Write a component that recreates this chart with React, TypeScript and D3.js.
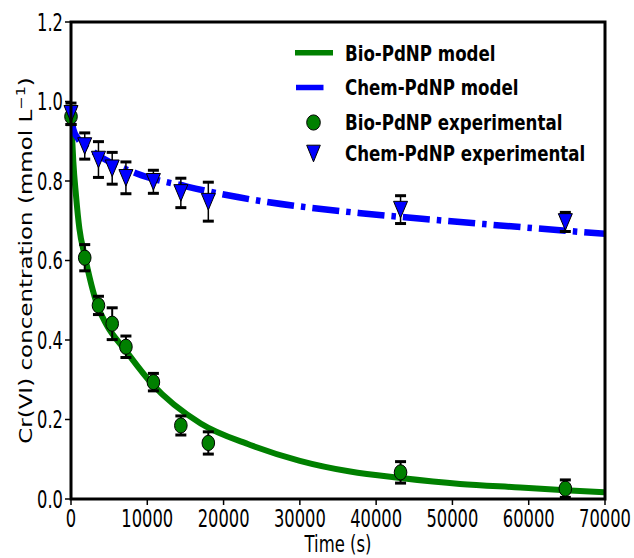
import React from "react";
import * as d3 from "d3";

// Sampling times (s)
const sampleTimes = [0, 1800, 3600, 5400, 7200, 10800, 14400, 18000, 43200, 64800];

// Bio-PdNP measured Cr(VI) concentration (mmol/L) and error
const bioExpConc = [0.962, 0.607, 0.487, 0.441, 0.383, 0.294, 0.185, 0.141, 0.067, 0.026];
const bioExpErr = [0.02, 0.033, 0.023, 0.04, 0.027, 0.022, 0.024, 0.028, 0.027, 0.022];

// Chem-PdNP measured Cr(VI) concentration (mmol/L) and error
const chemExpConc = [0.969, 0.888, 0.854, 0.832, 0.808, 0.798, 0.77, 0.748, 0.728, 0.697];
const chemExpErr = [0.027, 0.033, 0.045, 0.04, 0.04, 0.029, 0.037, 0.049, 0.035, 0.024];

// Fitted model curves
const bioModelTime = [0, 120, 300, 650, 1100, 1800, 3400, 4700, 7100, 10600, 17000, 23500, 30000, 36600, 43200, 51000, 58900, 64800, 70000];
const bioModelConc = [0.965, 0.92, 0.85, 0.765, 0.68, 0.612, 0.49, 0.437, 0.375, 0.29, 0.19, 0.136, 0.096, 0.069, 0.053, 0.038, 0.029, 0.022, 0.017];

const chemModelTime = [0, 300, 900, 2900, 8600, 15200, 22000, 38000, 46000, 70000];
const chemModelConc = [0.965, 0.93, 0.907, 0.874, 0.819, 0.786, 0.759, 0.719, 0.705, 0.667];

const xTicks = [0, 10000, 20000, 30000, 40000, 50000, 60000, 70000];
const yTicks = [0, 0.2, 0.4, 0.6, 0.8, 1.0, 1.2];

const legendLabels = ["Bio-PdNP model", "Chem-PdNP model", "Bio-PdNP experimental", "Chem-PdNP experimental"];

const GREEN = "#008000";
const BLUE = "#0000ff";
const FONT = "'DejaVu Sans', sans-serif";

const M = { left: 71, right: 605, top: 22, bottom: 499 };

export default function App() {
  const x = d3.scaleLinear().domain([0, 70000]).range([M.left, M.right]);
  const y = d3.scaleLinear().domain([0, 1.2]).range([M.bottom, M.top]);

  const line = d3
    .line<[number, number]>()
    .x((d) => x(d[0]))
    .y((d) => y(d[1]))
    .curve(d3.curveMonotoneX);

  const bioPath = line(bioModelTime.map((t, i) => [t, bioModelConc[i]]) as [number, number][]) || "";
  const chemPath = line(chemModelTime.map((t, i) => [t, chemModelConc[i]]) as [number, number][]) || "";

  const tickSX = 0.68;
  const capW = 5.5;

  const triPath = (cx: number, cy: number, w = 7, h = 8.3) =>
    `M${cx - w},${cy - h}L${cx + w},${cy - h}L${cx},${cy + h}Z`;

  const errorBars = (conc: number[], err: number[], lw: number) =>
    sampleTimes.map((t, i) => {
      const cx = x(t);
      const y1 = y(conc[i] + err[i]);
      const y2 = y(conc[i] - err[i]);
      return <line key={i} x1={cx} x2={cx} y1={y1} y2={y2} stroke="#000" strokeWidth={lw} />;
    });

  const caps = (conc: number[], err: number[]) =>
    sampleTimes.map((t, i) => {
      const cx = x(t);
      const y1 = y(conc[i] + err[i]);
      const y2 = y(conc[i] - err[i]);
      return (
        <g key={i}>
          <line x1={cx - capW} x2={cx + capW} y1={y1} y2={y1} stroke="#000" strokeWidth={3} />
          <line x1={cx - capW} x2={cx + capW} y1={y2} y2={y2} stroke="#000" strokeWidth={3} />
        </g>
      );
    });

  const legendRowsY = [52.8, 87.5, 122.5, 153.5];

  return (
    <svg
      width={634}
      height={558}
      style={{ position: "absolute", left: 0, top: 0, background: "#fff" }}
      fontFamily={FONT}
    >
      <defs>
        <clipPath id="plotArea">
          <rect x={M.left} y={M.top} width={M.right - M.left} height={M.bottom - M.top} />
        </clipPath>
      </defs>
      <rect x={0} y={0} width={634} height={558} fill="#fff" />

      {/* model curves */}
      <g clipPath="url(#plotArea)">
        <path d={bioPath} fill="none" stroke={GREEN} strokeWidth={6} />
        <path d={chemPath} fill="none" stroke={BLUE} strokeWidth={6.5} strokeDasharray="27,7,4.5,7" />
      </g>

      {/* Bio-PdNP experimental */}
      <g>
        {errorBars(bioExpConc, bioExpErr, 2)}
        {sampleTimes.map((t, i) => (
          <ellipse key={i} cx={x(t)} cy={y(bioExpConc[i])} rx={6.3} ry={7.6} fill={GREEN} stroke="#000" strokeWidth={1} />
        ))}
        {caps(bioExpConc, bioExpErr)}
      </g>

      {/* Chem-PdNP experimental */}
      <g>
        {errorBars(chemExpConc, chemExpErr, 1.5)}
        {sampleTimes.map((t, i) => (
          <path key={i} d={triPath(x(t), y(chemExpConc[i]))} fill={BLUE} stroke="#000" strokeWidth={1} />
        ))}
        {caps(chemExpConc, chemExpErr)}
      </g>

      {/* frame */}
      <rect
        x={M.left}
        y={M.top}
        width={M.right - M.left}
        height={M.bottom - M.top}
        fill="none"
        stroke="#000"
        strokeWidth={3}
      />

      {/* y axis ticks */}
      {yTicks.map((v) => (
        <g key={v}>
          <line x1={M.left - 6} x2={M.left} y1={y(v)} y2={y(v)} stroke="#000" strokeWidth={1.5} />
          <text
            transform={`translate(${M.left - 8},${y(v) + 8.7}) scale(${tickSX},1)`}
            textAnchor="end"
            fontSize={24}
            fill="#000"
          >
            {v.toFixed(1)}
          </text>
        </g>
      ))}

      {/* x axis ticks */}
      {xTicks.map((v) => (
        <g key={v}>
          <line x1={x(v)} x2={x(v)} y1={M.bottom} y2={M.bottom + 6} stroke="#000" strokeWidth={1.5} />
          <text
            transform={`translate(${x(v)},527) scale(${tickSX},1)`}
            textAnchor="middle"
            fontSize={24}
            fill="#000"
          >
            {v}
          </text>
        </g>
      ))}

      {/* axis titles */}
      <text
        transform={`translate(${(M.left + M.right) / 2},552) scale(0.7,1)`}
        textAnchor="middle"
        fontSize={23.5}
        fill="#000"
      >
        Time (s)
      </text>
      <text
        transform={`translate(31.5,${(M.top + M.bottom) / 2}) rotate(-90) scale(1,0.77)`}
        textAnchor="middle"
        fontSize={23}
        fill="#000"
      >
        Cr(VI) concentration (mmol L
        <tspan dy={-9} fontSize={16}>−1</tspan>
        <tspan dy={9}>)</tspan>
      </text>

      {/* legend */}
      <g>
        <line x1={295} x2={333} y1={legendRowsY[0]} y2={legendRowsY[0]} stroke={GREEN} strokeWidth={5.5} />
        <line x1={296} x2={323.5} y1={legendRowsY[1]} y2={legendRowsY[1]} stroke={BLUE} strokeWidth={5.5} />
        <ellipse cx={313.5} cy={legendRowsY[2]} rx={6.8} ry={7.6} fill={GREEN} stroke="#000" strokeWidth={1} />
        <path d={triPath(313.5, legendRowsY[3], 6.8, 8.3)} fill={BLUE} stroke="#000" strokeWidth={1} />
        {legendLabels.map((s, i) => (
          <text
            key={s}
            transform={`translate(345,${legendRowsY[i] + 7.8}) scale(0.775,1)`}
            fontSize={21.5}
            fontWeight="bold"
            fill="#000"
          >
            {s}
          </text>
        ))}
      </g>
    </svg>
  );
}
